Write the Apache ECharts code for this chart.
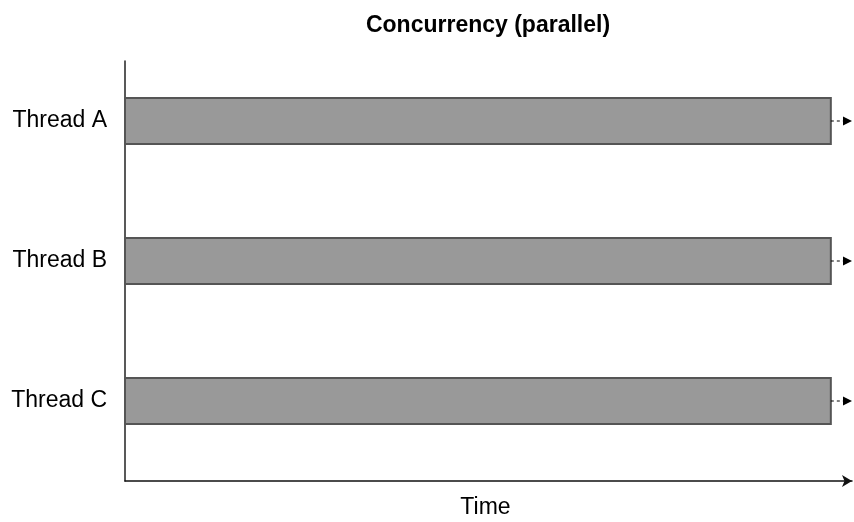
<!DOCTYPE html>
<html><head><meta charset="utf-8">
<script src="https://cdn.jsdelivr.net/npm/echarts@6/dist/echarts.min.js"></script>
<style>html,body{margin:0;padding:0;background:#fff}#c{width:854px;height:522px}</style>
</head><body><div id="c"></div>
<script>
const threads = ['Thread A', 'Thread B', 'Thread C'];
const threadPos = [36, 22, 8];
const startTime = [0, 0, 0];
const endTime = [10, 10, 10];
const arrowEnd = [10.3, 10.3, 10.3];
const titleText = 'Concurrency (parallel)';
const xName = 'Time';

const chart = echarts.init(document.getElementById('c'), null, {renderer: 'canvas'});
const data = threads.map((t, i) => [startTime[i], endTime[i], threadPos[i], arrowEnd[i]]);
chart.setOption({
  animation: false,
  title: {text: titleText, left: 483, textAlign: 'center', top: 9,
    textStyle: {fontFamily: 'Liberation Sans', fontSize: 23, fontWeight: 'bold', color: '#000'}},
  grid: {left: 125, right: 2, top: 61, bottom: 41, outerBoundsMode: 'none', containLabel: false},
  xAxis: {type: 'value', min: 0, max: 10.3, name: xName, nameLocation: 'middle', nameGap: 15,
    nameTextStyle: {fontFamily: 'Liberation Sans', fontSize: 23, color: '#000', verticalAlign: 'top', padding: [0, 6, 0, 0]},
    axisLine: {show: true, lineStyle: {color: '#111', width: 1.5}, symbol: ['none', 'arrow'], symbolSize: [9, 10]},
    axisTick: {show: false}, axisLabel: {show: false}, splitLine: {show: false}},
  yAxis: {type: 'value', min: 0, max: 42,
    axisLine: {show: true, lineStyle: {color: '#222', width: 1.5}},
    axisTick: {show: false}, splitLine: {show: false},
    axisLabel: {customValues: threadPos, formatter: v => threads[threadPos.indexOf(v)],
      fontFamily: 'Liberation Sans', fontSize: 23, color: '#000', margin: 18}},
  series: [{
    type: 'custom',
    data: data,
    renderItem: function (params, api) {
      const s = api.coord([api.value(0), api.value(2)]);
      const e = api.coord([api.value(1), api.value(2)]);
      const a = api.coord([api.value(3), api.value(2)]);
      const h = api.size([0, 4.6])[1];
      return {type: 'group', children: [
        {type: 'rect', shape: {x: s[0], y: s[1] - h / 2, width: e[0] - s[0], height: h},
          style: {fill: '#999999', stroke: '#555555', lineWidth: 2}},
        {type: 'line', shape: {x1: e[0], y1: e[1], x2: a[0] - 8, y2: a[1]},
          style: {stroke: '#000', lineWidth: 1, lineDash: [3, 3]}},
        {type: 'polygon', shape: {points: [[a[0] - 9, a[1] - 4.5], [a[0], a[1]], [a[0] - 9, a[1] + 4.5]]},
          style: {fill: '#000'}}
      ]};
    }
  }]
});
</script></body></html>
